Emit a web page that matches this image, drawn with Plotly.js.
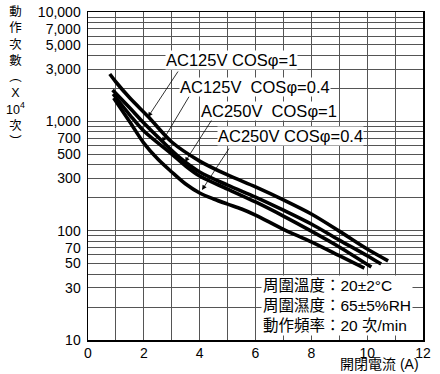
<!DOCTYPE html>
<html>
<head>
<meta charset="utf-8">
<script src="https://cdn.plot.ly/plotly-3.0.1.min.js"></script>
<style>html,body{margin:0;padding:0;background:#fff;}#chart{width:440px;height:374px;}</style>
</head>
<body>
<div id="chart"></div>
<script>
// ---- data ----
const seriesNames = ["AC125V COSφ=1", "AC125V  COSφ=0.4", "AC250V  COSφ=1", "AC250V COSφ=0.4"];
const xA = [0.78, 1.0, 1.5, 2.17, 3.0, 4.0, 5.0, 6.0, 7.0, 8.0, 9.0, 10.0, 10.75];
const yA = [2708, 2290, 1634, 1095, 647, 433, 323, 251, 191, 142, 99, 68, 53];
const xB = [0.88, 1.5, 2.0, 2.65, 3.3, 4.0, 5.0, 6.0, 7.0, 8.0, 9.0, 10.0, 10.5];
const yB = [1933, 1323, 965, 660, 462, 344, 261, 203, 154, 115, 82, 59, 49.5];
const xC = [0.9, 1.5, 2.0, 3.0, 3.5, 4.0, 5.0, 6.0, 7.0, 8.0, 9.0, 10.15];
const yC = [1778, 1142, 815, 502, 390, 316, 240, 183, 136, 99, 71, 46.5];
const xD = [0.92, 1.5, 2.0, 2.5, 3.0, 3.5, 4.0, 4.5, 5.0, 5.5, 6.0, 7.0, 8.0, 9.0, 9.9];
const yD = [1634, 985, 633, 452, 344, 267, 221, 195, 175, 158, 139, 103, 79, 59, 45.5];

const xTickVals = [0,1,2,3,4,5,6,7,8,9,10,11,12];
const xTickText = ["0","","2","","4","","6","","8","","10","","12"];
const yTickVals = [10,20,30,40,50,60,70,80,90,100,200,300,400,500,600,700,800,900,1000,2000,3000,4000,5000,6000,7000,8000,9000,10000];
const yTickText = ["10","","30","","50","","70","","","100","","300","","500","","700","","","1,000","","3,000","","5,000","","7,000","","","10,000"];

const conditionLines = ["周圍溫度：20±2°C", "周圍濕度：65±5%RH", "動作頻率：20 次/min"];
const yTitleChars = ["動","作","次","數","︵","X","10<sup>4</sup>","次","︶"];
const xTitle = "開閉電流 (A)";

// ---- layout helpers (pixel -> paper) ----
const L = 88, R = 423, T = 12, B = 340;
const px = v => (v - L) / (R - L);
const py = v => (B - v) / (B - T);

const FONT = "Liberation Sans, Arial, Noto Sans CJK TC, sans-serif";
const lineStyle = {color: "#000", width: 3.6, shape: "spline", smoothing: 0.9};
const traces = [[xA,yA],[xB,yB],[xC,yC],[xD,yD]].map((d,i) => ({
  x: d[0], y: d[1], type: "scatter", mode: "lines", name: seriesNames[i],
  line: lineStyle, hoverinfo: "skip"
}));

const labelPos = [[165,60],[179,87],[200,111],[217,136]];
const arrows = [
  {head:[148,117], ax:31, ay:-47},
  {head:[162,142], ax:28, ay:-47},
  {head:[185,162], ax:28, ay:-44},
  {head:[202,190], ax:28, ay:-43}
];

const annotations = [];
arrows.forEach(a => annotations.push({
  xref:"paper", yref:"paper", x:px(a.head[0]), y:py(a.head[1]), text:"",
  showarrow:true, arrowhead:2, arrowsize:1.2, arrowwidth:0.8, arrowcolor:"#000",
  ax:a.ax, ay:a.ay, axref:"pixel", ayref:"pixel", standoff:0
}));
seriesNames.forEach((n,i) => annotations.push({
  xref:"paper", yref:"paper", x:px(labelPos[i][0]), y:py(labelPos[i][1]),
  xanchor:"left", yanchor:"middle", text:n, showarrow:false,
  bgcolor:"#fff", borderpad:0, font:{family:FONT, size:16.5, color:"#000"}
}));
annotations.push({
  xref:"paper", yref:"paper", x:px(261), y:py(305), xanchor:"left", yanchor:"middle",
  align:"left", text:conditionLines.join("<br>"), showarrow:false, bgcolor:"#fff", borderpad:1,
  font:{family:FONT, size:15.5, color:"#000"}
});
annotations.push({
  xref:"paper", yref:"paper", x:px(15), y:py(77), xanchor:"center", yanchor:"middle",
  align:"center", text:yTitleChars.join("<br>"), showarrow:false,
  font:{family:FONT, size:12.5, color:"#000"}
});
annotations.push({
  xref:"paper", yref:"paper", x:px(420), y:py(373), xanchor:"right", yanchor:"bottom",
  text:xTitle, showarrow:false, borderpad:0, font:{family:FONT, size:14, color:"#000"}
});

const layout = {
  width:440, height:374,
  margin:{l:L, r:440-R, t:T, b:374-B},
  paper_bgcolor:"#fff", plot_bgcolor:"#fff",
  showlegend:false,
  font:{family:FONT, size:14, color:"#000"},
  xaxis:{range:[0,12], tickvals:xTickVals, ticktext:xTickText, showgrid:true,
    gridcolor:"#555", gridwidth:1, zeroline:false, showline:true, linecolor:"#000",
    linewidth:1.5, mirror:true, ticks:"", tickfont:{size:14}},
  yaxis:{type:"log", range:[1,4], tickvals:yTickVals, ticktext:yTickText, showgrid:true,
    gridcolor:"#555", gridwidth:1, zeroline:false, showline:true, linecolor:"#000",
    linewidth:1.5, mirror:true, ticks:"", tickfont:{size:14}, ticklabelstandoff:3},
  annotations:annotations
};

Plotly.newPlot("chart", traces, layout, {staticPlot:true, displayModeBar:false});
</script>
</body>
</html>
